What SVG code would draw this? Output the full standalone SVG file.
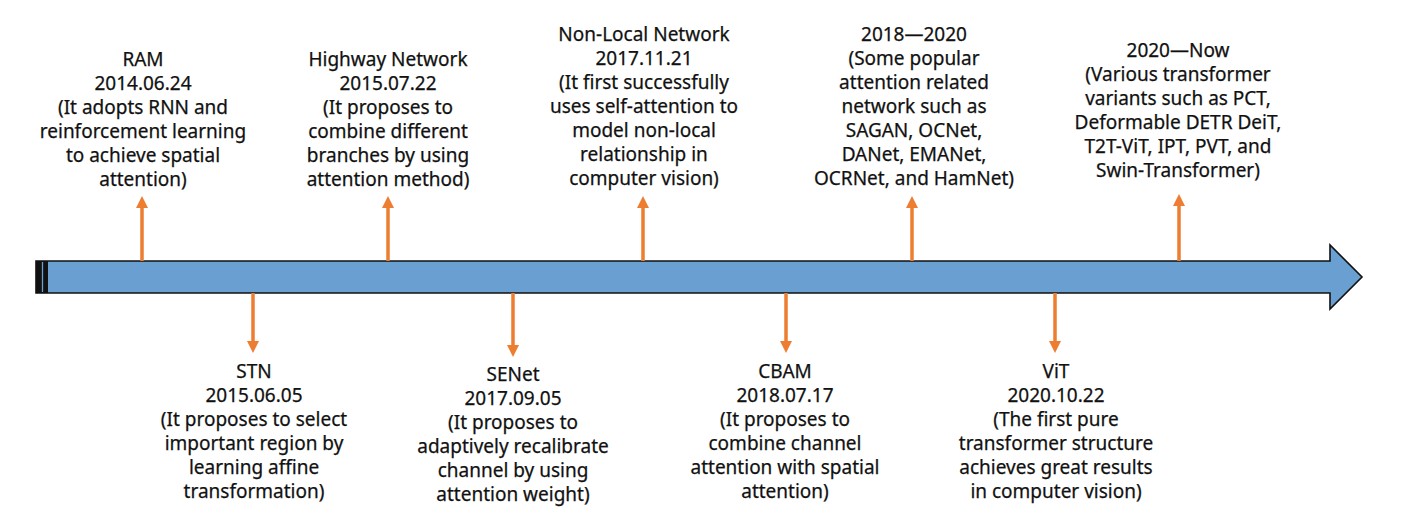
<svg xmlns="http://www.w3.org/2000/svg" width="1402" height="518" viewBox="0 0 1402 518">
  <style>
    .lbl { font-family: "Noto Sans", "Open Sans", "DejaVu Sans", sans-serif; font-size: 19px; fill: #111111; stroke: #111111; stroke-width: 0.25; text-anchor: middle; }
    .conn { stroke: #ED7D31; stroke-width: 3.5; fill: none; marker-end: url(#ah); }
    .axis { fill: #6A9FD2; stroke: #111; stroke-width: 1.6; stroke-linejoin: miter; }
  </style>
  <defs>
    <marker id="ah" viewBox="0 0 12 12" refX="2" refY="6" markerWidth="12" markerHeight="12" markerUnits="userSpaceOnUse" orient="auto">
      <path d="M0,0 L12,6 L0,12 z" fill="#ED7D31"/>
    </marker>
  </defs>
  <rect width="1402" height="518" fill="#ffffff"/>

  <g id="timeline">
    <polygon class="axis" points="36,261 1330,261 1330,245 1362,277 1330,309 1330,293 36,293"/>
    <rect x="36" y="261" width="12" height="32" fill="#111"/>
    <line x1="42.5" y1="262" x2="42.5" y2="292" stroke="#6A9FD2" stroke-width="1.3"/>
  </g>

  <g id="connectors">
    <line class="conn" x1="142" y1="261" x2="142" y2="206"/>
    <line class="conn" x1="388" y1="261" x2="388" y2="206"/>
    <line class="conn" x1="643" y1="261" x2="643" y2="206"/>
    <line class="conn" x1="912" y1="261" x2="912" y2="206"/>
    <line class="conn" x1="1179" y1="261" x2="1179" y2="204"/>
    <line class="conn" x1="253" y1="293" x2="253" y2="343"/>
    <line class="conn" x1="513" y1="293" x2="513" y2="347"/>
    <line class="conn" x1="786" y1="293" x2="786" y2="343"/>
    <line class="conn" x1="1055" y1="293" x2="1055" y2="343"/>
  </g>

  <g id="ram">
    <text class="lbl" x="143" y="66">RAM</text>
    <text class="lbl" x="143" y="90">2014.06.24</text>
    <text class="lbl" x="143" y="114">(It adopts RNN and</text>
    <text class="lbl" x="143" y="138">reinforcement learning</text>
    <text class="lbl" x="143" y="162">to achieve spatial</text>
    <text class="lbl" x="143" y="186">attention)</text>
  </g>

  <g id="highway">
    <text class="lbl" x="388" y="66">Highway Network</text>
    <text class="lbl" x="388" y="90">2015.07.22</text>
    <text class="lbl" x="388" y="114">(It proposes to</text>
    <text class="lbl" x="388" y="138">combine different</text>
    <text class="lbl" x="388" y="162">branches by using</text>
    <text class="lbl" x="388" y="186">attention method)</text>
  </g>

  <g id="nonlocal">
    <text class="lbl" x="644" y="41">Non-Local Network</text>
    <text class="lbl" x="644" y="65">2017.11.21</text>
    <text class="lbl" x="644" y="89">(It first successfully</text>
    <text class="lbl" x="644" y="113">uses self-attention to</text>
    <text class="lbl" x="644" y="137">model non-local</text>
    <text class="lbl" x="644" y="161">relationship in</text>
    <text class="lbl" x="644" y="185">computer vision)</text>
  </g>

  <g id="y2018">
    <text class="lbl" x="914" y="41">2018—2020</text>
    <text class="lbl" x="914" y="65">(Some popular</text>
    <text class="lbl" x="914" y="89">attention related</text>
    <text class="lbl" x="914" y="113">network such as</text>
    <text class="lbl" x="914" y="137">SAGAN, OCNet,</text>
    <text class="lbl" x="914" y="161">DANet, EMANet,</text>
    <text class="lbl" x="914" y="185">OCRNet, and HamNet)</text>
  </g>

  <g id="y2020">
    <text class="lbl" x="1178" y="57">2020—Now</text>
    <text class="lbl" x="1178" y="81">(Various transformer</text>
    <text class="lbl" x="1178" y="105">variants such as PCT,</text>
    <text class="lbl" x="1178" y="129">Deformable DETR DeiT,</text>
    <text class="lbl" x="1178" y="153">T2T-ViT, IPT, PVT, and</text>
    <text class="lbl" x="1178" y="177">Swin-Transformer)</text>
  </g>

  <g id="stn">
    <text class="lbl" x="254" y="378">STN</text>
    <text class="lbl" x="254" y="402">2015.06.05</text>
    <text class="lbl" x="254" y="426">(It proposes to select</text>
    <text class="lbl" x="254" y="450">important region by</text>
    <text class="lbl" x="254" y="474">learning affine</text>
    <text class="lbl" x="254" y="498">transformation)</text>
  </g>

  <g id="senet">
    <text class="lbl" x="513" y="381">SENet</text>
    <text class="lbl" x="513" y="405">2017.09.05</text>
    <text class="lbl" x="513" y="429">(It proposes to</text>
    <text class="lbl" x="513" y="453">adaptively recalibrate</text>
    <text class="lbl" x="513" y="477">channel by using</text>
    <text class="lbl" x="513" y="501">attention weight)</text>
  </g>

  <g id="cbam">
    <text class="lbl" x="785" y="378">CBAM</text>
    <text class="lbl" x="785" y="402">2018.07.17</text>
    <text class="lbl" x="785" y="426">(It proposes to</text>
    <text class="lbl" x="785" y="450">combine channel</text>
    <text class="lbl" x="785" y="474">attention with spatial</text>
    <text class="lbl" x="785" y="498">attention)</text>
  </g>

  <g id="vit">
    <text class="lbl" x="1056" y="378">ViT</text>
    <text class="lbl" x="1056" y="402">2020.10.22</text>
    <text class="lbl" x="1056" y="426">(The first pure</text>
    <text class="lbl" x="1056" y="450">transformer structure</text>
    <text class="lbl" x="1056" y="474">achieves great results</text>
    <text class="lbl" x="1056" y="498">in computer vision)</text>
  </g>
</svg>
